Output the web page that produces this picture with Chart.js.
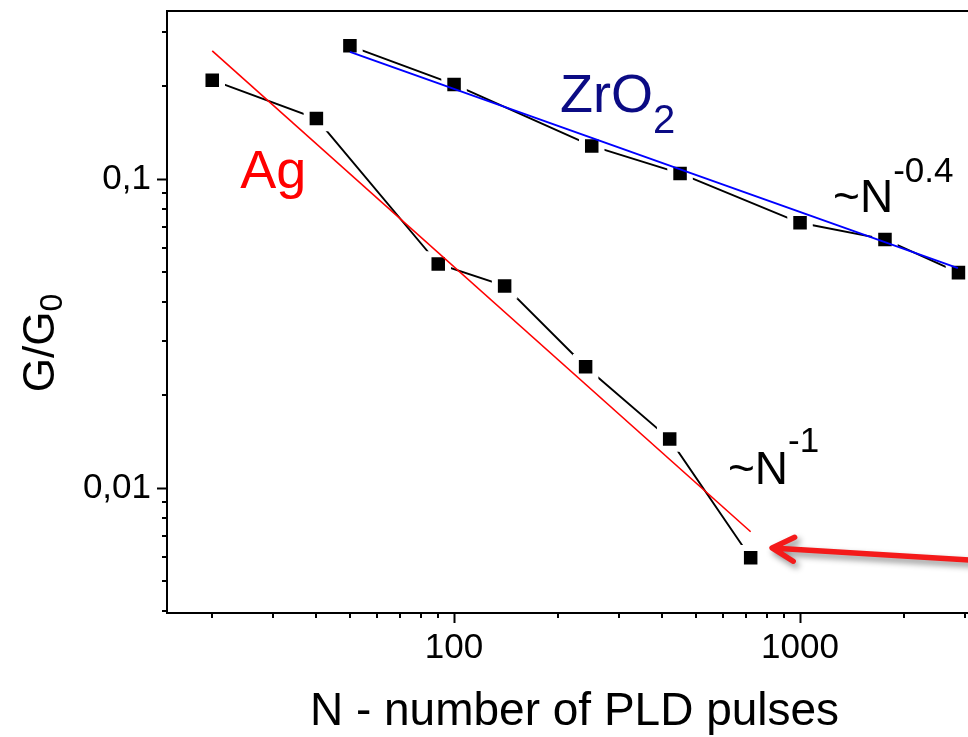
<!DOCTYPE html>
<html>
<head>
<meta charset="utf-8">
<script src="https://cdn.jsdelivr.net/npm/chart.js@4.4.1/dist/chart.umd.min.js"></script>
<style>
html, body { margin: 0; padding: 0; background: #fff; overflow: hidden; }
canvas { display: block; }
</style>
</head>
<body>
<canvas id="c" width="990" height="737"></canvas>
<script>
var FONT = 'Arial, "Liberation Sans", Helvetica, sans-serif';

// conductance vs. number of pulses, Ag films
var agN = [20, 40, 90, 140, 240, 420, 720];
var agG = [0.209, 0.157, 0.0531, 0.0451, 0.0247, 0.0144, 0.00595];
// ZrO2 films
var zrN = [50, 100, 250, 450, 1000, 1760, 2870];
var zrG = [0.270, 0.2025, 0.128, 0.1043, 0.0722, 0.0638, 0.0498];
// power-law fits (end points)
var agFitN = [20, 720];
var agFitG = [0.26, 0.00722];
var zrFitN = [50, 2860];
var zrFitG = [0.258, 0.0515];

// axis ticks
var xMajor = [100, 1000];
var xMajorLabels = ['100', '1000'];
var xMinor = [20, 30, 40, 50, 60, 70, 80, 90, 200, 300, 400, 500, 600, 700, 800, 900, 2000, 3000];
var yMajor = [0.01, 0.1];
var yMajorLabels = ['0,01', '0,1'];
var yMinor = [0.004, 0.005, 0.006, 0.007, 0.008, 0.009, 0.02, 0.03, 0.04, 0.05, 0.06, 0.07, 0.08, 0.09, 0.2, 0.3];

// text placed in data coordinates
var notes = [
  {n: 24.1, g: 0.0935, color: '#ff0000', parts: [['Ag', 54, 0]]},
  {n: 202.5, g: 0.1647, color: '#0b0b84', parts: [['ZrO', 54, 0], ['2', 40, 21]]},
  {n: 1246, g: 0.0782, color: '#000', parts: [['~N', 46, 0], ['-0.4', 35, -30]]},
  {n: 619, g: 0.0103, color: '#000', parts: [['~N', 46, 0], ['-1', 35, -32]]}
];
var arrowFrom = {n: 3540, g: 0.00579};
var arrowTo = {n: 830, g: 0.0064};

function pts(xs, ys) {
  return xs.map(function(x, i) { return {x: x, y: ys[i]}; });
}

function drawParts(ctx, x, y, parts) {
  parts.forEach(function(p) {
    ctx.font = p[1] + 'px ' + FONT;
    ctx.fillText(p[0], x, y + p[2]);
    x += ctx.measureText(p[0]).width;
  });
}

var extras = {
  id: 'extras',
  afterDraw: function(chart) {
    var ctx = chart.ctx, a = chart.chartArea;
    var xs = chart.scales.x, ys = chart.scales.y;
    ctx.save();

    // frame + minor ticks
    ctx.strokeStyle = '#000';
    ctx.lineWidth = 2;
    ctx.strokeRect(a.left, a.top, a.right - a.left, a.bottom - a.top);
    ctx.beginPath();
    xMinor.forEach(function(v) {
      var px = Math.round(xs.getPixelForValue(v));
      ctx.moveTo(px, a.bottom); ctx.lineTo(px, a.bottom + 5);
    });
    yMinor.forEach(function(v) {
      var py = Math.round(ys.getPixelForValue(v));
      ctx.moveTo(a.left, py); ctx.lineTo(a.left - 5, py);
    });
    ctx.stroke();

    // labels
    ctx.textBaseline = 'alphabetic';
    ctx.textAlign = 'left';
    notes.forEach(function(t) {
      ctx.fillStyle = t.color;
      drawParts(ctx, xs.getPixelForValue(t.n), ys.getPixelForValue(t.g), t.parts);
    });

    // y axis title with subscript
    ctx.save();
    ctx.fillStyle = '#000';
    ctx.font = '44px ' + FONT;
    var w1 = ctx.measureText('G/G').width;
    ctx.font = '32px ' + FONT;
    var w2 = ctx.measureText('0').width;
    ctx.translate(a.left - 113, (a.top + a.bottom) / 2 + 31 + (w1 + w2) / 2);
    ctx.rotate(-Math.PI / 2);
    drawParts(ctx, 0, 0, [['G/G', 44, 0], ['0', 32, 8]]);
    ctx.restore();

    // red arrow with drop shadow
    var x1 = xs.getPixelForValue(arrowFrom.n), y1 = ys.getPixelForValue(arrowFrom.g);
    var x2 = xs.getPixelForValue(arrowTo.n), y2 = ys.getPixelForValue(arrowTo.g);
    var ang = Math.atan2(y2 - y1, x2 - x1), hl = 25, sp = 0.5;
    ctx.shadowColor = 'rgba(0,0,0,0.45)';
    ctx.shadowBlur = 6;
    ctx.shadowOffsetX = 3;
    ctx.shadowOffsetY = 4;
    ctx.strokeStyle = '#f41a1a';
    ctx.lineWidth = 5.5;
    ctx.lineCap = 'round';
    ctx.lineJoin = 'round';
    ctx.beginPath();
    ctx.moveTo(x1, y1);
    ctx.lineTo(x2, y2);
    ctx.moveTo(x2 - hl * Math.cos(ang - sp), y2 - hl * Math.sin(ang - sp));
    ctx.lineTo(x2, y2);
    ctx.lineTo(x2 - hl * Math.cos(ang + sp), y2 - hl * Math.sin(ang + sp));
    ctx.stroke();

    ctx.restore();
  }
};

var markerStyle = {
  borderColor: '#000', borderWidth: 1.9,
  pointStyle: 'rect', pointRadius: 13.8,
  pointBackgroundColor: '#000', pointBorderColor: '#fff', pointBorderWidth: 6
};

new Chart(document.getElementById('c'), {
  type: 'line',
  data: {
    datasets: [
      {label: 'Ag fit', data: pts(agFitN, agFitG), borderColor: '#ff0000', borderWidth: 1.6, pointRadius: 0},
      {label: 'ZrO2 fit', data: pts(zrFitN, zrFitG), borderColor: '#0000ff', borderWidth: 2, pointRadius: 0},
      Object.assign({label: 'Ag', data: pts(agN, agG)}, markerStyle),
      Object.assign({label: 'ZrO2', data: pts(zrN, zrG)}, markerStyle)
    ]
  },
  options: {
    responsive: false,
    animation: false,
    events: [],
    layout: {autoPadding: false, padding: {left: 0, top: 11, right: 8, bottom: 0}},
    plugins: {legend: {display: false}, tooltip: {enabled: false}},
    scales: {
      x: {
        type: 'logarithmic', min: 14.8, max: 3357,
        afterBuildTicks: function(s) { s.ticks = xMajor.map(function(v) { return {value: v, major: true}; }); },
        afterFit: function(s) { s.height = 124; s.paddingLeft = 0; s.paddingRight = 0; },
        ticks: {
          autoSkip: false, maxRotation: 0, padding: 4, color: '#000',
          font: {family: FONT, size: 35},
          callback: function(v) { return xMajorLabels[xMajor.indexOf(v)]; }
        },
        grid: {drawOnChartArea: false, tickLength: 10, tickWidth: 2, tickColor: '#000'},
        border: {display: false},
        title: {
          display: true, text: 'N - number of PLD pulses', color: '#000',
          font: {family: FONT, size: 46, lineHeight: 1}, padding: {top: 0, bottom: 2}
        }
      },
      y: {
        type: 'logarithmic', min: 0.00394, max: 0.35,
        afterBuildTicks: function(s) { s.ticks = yMajor.map(function(v) { return {value: v, major: true}; }); },
        afterFit: function(s) { s.width = 167; s.paddingTop = 0; s.paddingBottom = 0; },
        ticks: {
          autoSkip: false, padding: 6, color: '#000',
          font: {family: FONT, size: 35},
          callback: function(v) { return yMajorLabels[yMajor.indexOf(v)]; }
        },
        grid: {drawOnChartArea: false, tickLength: 10, tickWidth: 2, tickColor: '#000'},
        border: {display: false}
      }
    }
  },
  plugins: [extras]
});
</script>
</body>
</html>
